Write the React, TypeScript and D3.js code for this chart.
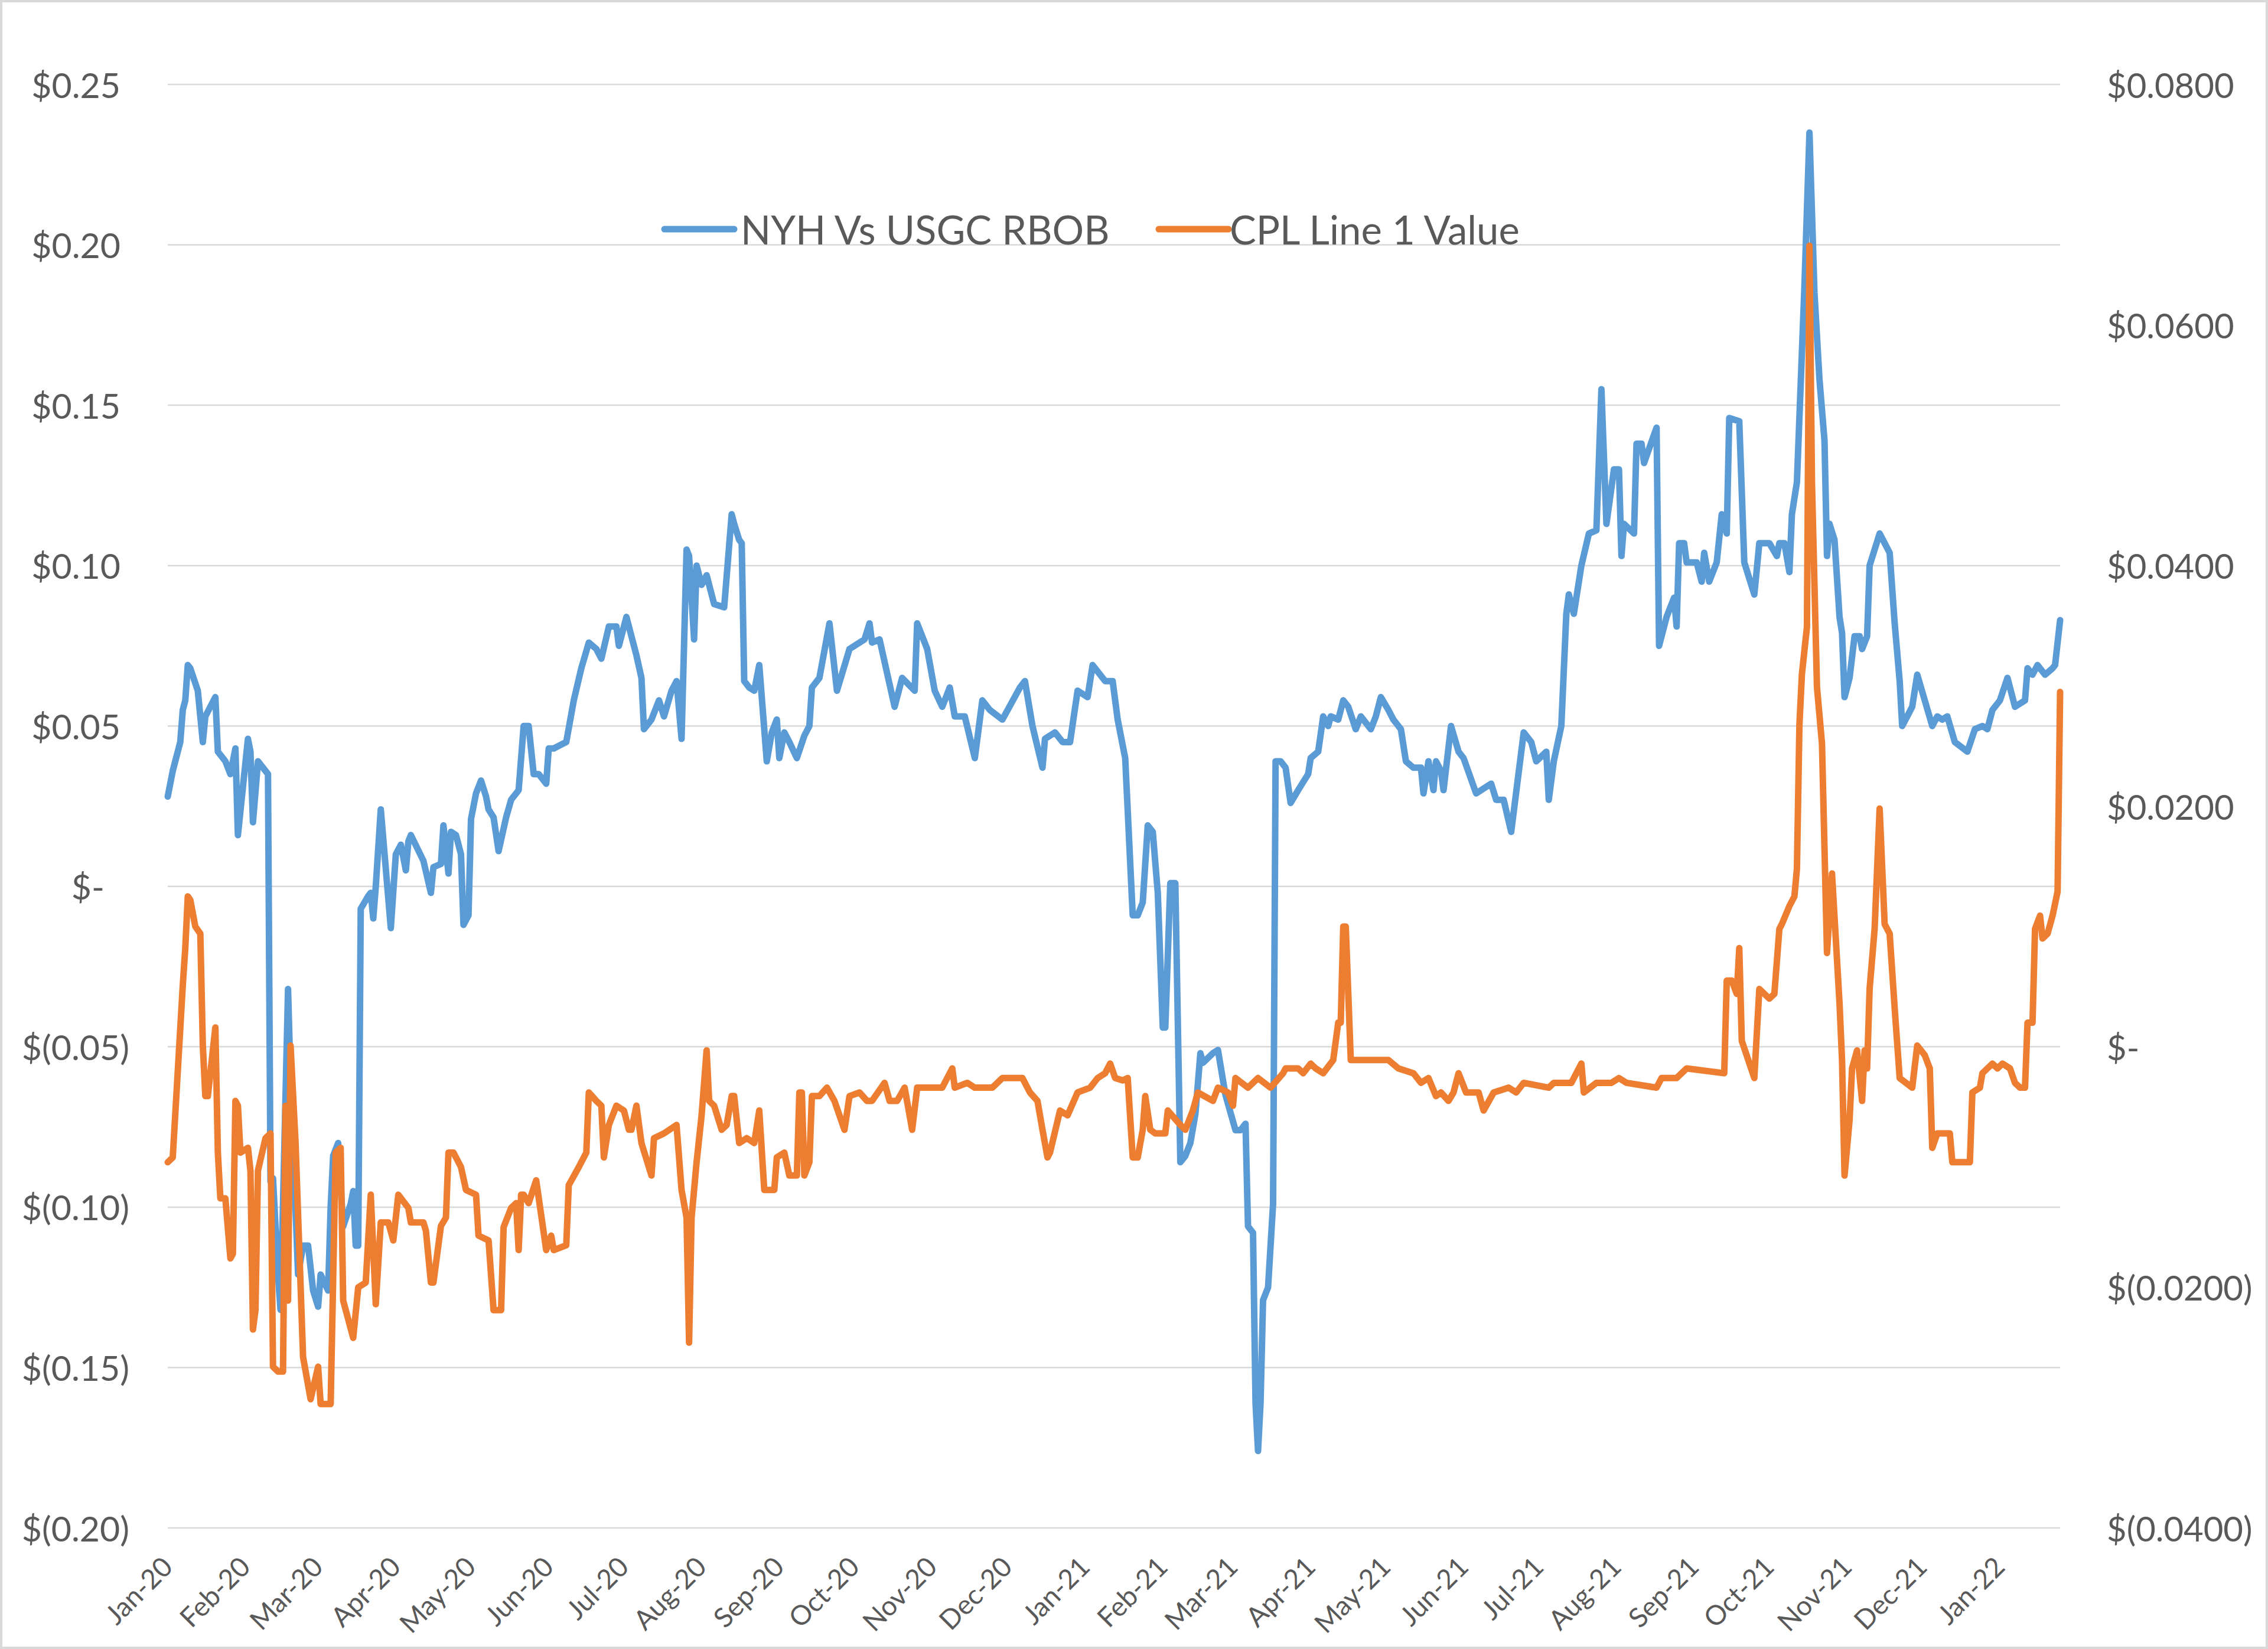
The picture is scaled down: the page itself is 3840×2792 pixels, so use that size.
import React from 'react';
import * as d3 from 'd3';

const nyhSeries: [string, number][] = [
  ['2020-01-02', 0.028], ['2020-01-04', 0.036], ['2020-01-07', 0.045], ['2020-01-08', 0.055], ['2020-01-09', 0.058],
  ['2020-01-10', 0.069], ['2020-01-11', 0.068], ['2020-01-14', 0.061], ['2020-01-16', 0.045], ['2020-01-17', 0.053],
  ['2020-01-21', 0.059], ['2020-01-22', 0.042], ['2020-01-25', 0.039], ['2020-01-27', 0.035], ['2020-01-29', 0.043],
  ['2020-01-30', 0.016], ['2020-02-03', 0.046], ['2020-02-04', 0.042], ['2020-02-05', 0.020], ['2020-02-07', 0.039],
  ['2020-02-10', 0.036], ['2020-02-11', 0.035], ['2020-02-12', -0.092], ['2020-02-13', -0.091], ['2020-02-15', -0.121],
  ['2020-02-16', -0.132], ['2020-02-19', -0.032], ['2020-02-20', -0.060], ['2020-02-23', -0.121], ['2020-02-25', -0.112],
  ['2020-02-27', -0.112], ['2020-02-29', -0.126], ['2020-03-02', -0.131], ['2020-03-03', -0.121], ['2020-03-06', -0.126],
  ['2020-03-07', -0.100], ['2020-03-08', -0.084], ['2020-03-10', -0.080], ['2020-03-12', -0.106], ['2020-03-15', -0.099],
  ['2020-03-16', -0.095], ['2020-03-17', -0.112], ['2020-03-18', -0.112], ['2020-03-19', -0.007], ['2020-03-22', -0.003],
  ['2020-03-23', -0.002], ['2020-03-24', -0.010], ['2020-03-25', 0.000], ['2020-03-27', 0.024], ['2020-03-31', -0.013],
  ['2020-04-02', 0.010], ['2020-04-04', 0.013], ['2020-04-06', 0.005], ['2020-04-07', 0.014], ['2020-04-08', 0.016],
  ['2020-04-13', 0.008], ['2020-04-16', -0.002], ['2020-04-17', 0.006], ['2020-04-20', 0.007], ['2020-04-21', 0.019],
  ['2020-04-23', 0.004], ['2020-04-24', 0.017], ['2020-04-26', 0.016], ['2020-04-28', 0.010], ['2020-04-29', -0.012],
  ['2020-05-01', -0.009], ['2020-05-02', 0.021], ['2020-05-04', 0.029], ['2020-05-06', 0.033], ['2020-05-08', 0.028],
  ['2020-05-09', 0.024], ['2020-05-11', 0.0215], ['2020-05-13', 0.011], ['2020-05-16', 0.0215], ['2020-05-18', 0.027],
  ['2020-05-21', 0.030], ['2020-05-23', 0.050], ['2020-05-25', 0.050], ['2020-05-27', 0.035], ['2020-05-29', 0.035],
  ['2020-06-01', 0.032], ['2020-06-02', 0.043], ['2020-06-04', 0.043], ['2020-06-09', 0.045], ['2020-06-12', 0.058],
  ['2020-06-15', 0.068], ['2020-06-18', 0.076], ['2020-06-21', 0.074], ['2020-06-23', 0.071], ['2020-06-26', 0.081],
  ['2020-06-29', 0.081], ['2020-06-30', 0.075], ['2020-07-03', 0.084], ['2020-07-05', 0.078], ['2020-07-07', 0.072],
  ['2020-07-09', 0.065], ['2020-07-10', 0.049], ['2020-07-13', 0.052], ['2020-07-16', 0.058], ['2020-07-18', 0.053],
  ['2020-07-21', 0.061], ['2020-07-23', 0.064], ['2020-07-25', 0.046], ['2020-07-27', 0.105], ['2020-07-28', 0.103],
  ['2020-07-30', 0.077], ['2020-07-31', 0.100], ['2020-08-02', 0.094], ['2020-08-04', 0.097], ['2020-08-07', 0.088],
  ['2020-08-11', 0.087], ['2020-08-14', 0.116], ['2020-08-15', 0.113], ['2020-08-17', 0.108], ['2020-08-18', 0.107],
  ['2020-08-19', 0.064], ['2020-08-21', 0.062], ['2020-08-23', 0.061], ['2020-08-25', 0.069], ['2020-08-28', 0.039],
  ['2020-08-30', 0.048], ['2020-09-01', 0.052], ['2020-09-02', 0.040], ['2020-09-04', 0.048], ['2020-09-06', 0.045],
  ['2020-09-09', 0.040], ['2020-09-12', 0.047], ['2020-09-14', 0.050], ['2020-09-15', 0.062], ['2020-09-18', 0.065],
  ['2020-09-22', 0.082], ['2020-09-25', 0.061], ['2020-09-30', 0.074], ['2020-10-06', 0.077], ['2020-10-08', 0.082],
  ['2020-10-09', 0.076], ['2020-10-12', 0.077], ['2020-10-18', 0.056], ['2020-10-21', 0.065], ['2020-10-26', 0.061],
  ['2020-10-27', 0.082], ['2020-10-31', 0.074], ['2020-11-03', 0.061], ['2020-11-06', 0.056], ['2020-11-09', 0.062],
  ['2020-11-11', 0.053], ['2020-11-15', 0.053], ['2020-11-19', 0.040], ['2020-11-22', 0.058], ['2020-11-25', 0.055],
  ['2020-11-30', 0.052], ['2020-12-07', 0.062], ['2020-12-09', 0.064], ['2020-12-12', 0.050], ['2020-12-16', 0.037],
  ['2020-12-17', 0.046], ['2020-12-21', 0.048], ['2020-12-24', 0.045], ['2020-12-27', 0.045], ['2020-12-30', 0.061],
  ['2021-01-03', 0.059], ['2021-01-05', 0.069], ['2021-01-10', 0.064], ['2021-01-13', 0.064], ['2021-01-15', 0.052],
  ['2021-01-18', 0.040], ['2021-01-21', -0.009], ['2021-01-23', -0.009], ['2021-01-25', -0.005], ['2021-01-27', 0.019],
  ['2021-01-29', 0.017], ['2021-01-31', -0.002], ['2021-02-02', -0.044], ['2021-02-03', -0.044], ['2021-02-05', 0.001],
  ['2021-02-07', 0.001], ['2021-02-09', -0.086], ['2021-02-11', -0.084], ['2021-02-13', -0.080], ['2021-02-15', -0.071],
  ['2021-02-17', -0.052], ['2021-02-18', -0.055], ['2021-02-22', -0.052], ['2021-02-24', -0.051], ['2021-02-27', -0.065],
  ['2021-03-03', -0.076], ['2021-03-05', -0.076], ['2021-03-07', -0.074], ['2021-03-08', -0.106], ['2021-03-10', -0.108],
  ['2021-03-11', -0.161], ['2021-03-12', -0.176], ['2021-03-13', -0.161], ['2021-03-14', -0.129], ['2021-03-16', -0.125],
  ['2021-03-18', -0.099], ['2021-03-19', 0.039], ['2021-03-21', 0.039], ['2021-03-23', 0.037], ['2021-03-25', 0.026],
  ['2021-03-28', 0.030], ['2021-04-01', 0.035], ['2021-04-02', 0.040], ['2021-04-05', 0.042], ['2021-04-07', 0.053],
  ['2021-04-09', 0.050], ['2021-04-10', 0.053], ['2021-04-13', 0.052], ['2021-04-15', 0.058], ['2021-04-17', 0.056],
  ['2021-04-20', 0.049], ['2021-04-22', 0.053], ['2021-04-26', 0.049], ['2021-04-28', 0.053], ['2021-04-30', 0.059],
  ['2021-05-03', 0.055], ['2021-05-05', 0.052], ['2021-05-08', 0.049], ['2021-05-10', 0.039], ['2021-05-13', 0.037],
  ['2021-05-16', 0.037], ['2021-05-17', 0.029], ['2021-05-19', 0.039], ['2021-05-21', 0.030], ['2021-05-22', 0.039],
  ['2021-05-24', 0.036], ['2021-05-25', 0.030], ['2021-05-28', 0.050], ['2021-05-31', 0.042], ['2021-06-02', 0.040],
  ['2021-06-07', 0.029], ['2021-06-09', 0.030], ['2021-06-13', 0.032], ['2021-06-15', 0.027], ['2021-06-18', 0.027],
  ['2021-06-21', 0.017], ['2021-06-26', 0.048], ['2021-06-29', 0.045], ['2021-07-01', 0.039], ['2021-07-05', 0.042],
  ['2021-07-06', 0.027], ['2021-07-08', 0.039], ['2021-07-11', 0.050], ['2021-07-13', 0.085], ['2021-07-14', 0.091],
  ['2021-07-16', 0.085], ['2021-07-19', 0.100], ['2021-07-22', 0.110], ['2021-07-25', 0.111], ['2021-07-27', 0.155],
  ['2021-07-29', 0.113], ['2021-08-01', 0.130], ['2021-08-03', 0.130], ['2021-08-04', 0.103], ['2021-08-05', 0.113],
  ['2021-08-09', 0.110], ['2021-08-10', 0.138], ['2021-08-12', 0.138], ['2021-08-13', 0.132], ['2021-08-18', 0.143],
  ['2021-08-19', 0.075], ['2021-08-22', 0.084], ['2021-08-25', 0.090], ['2021-08-26', 0.081], ['2021-08-27', 0.107],
  ['2021-08-29', 0.107], ['2021-08-30', 0.101], ['2021-09-03', 0.101], ['2021-09-05', 0.095], ['2021-09-06', 0.104],
  ['2021-09-08', 0.095], ['2021-09-11', 0.101], ['2021-09-13', 0.116], ['2021-09-15', 0.110], ['2021-09-16', 0.146],
  ['2021-09-20', 0.145], ['2021-09-22', 0.101], ['2021-09-26', 0.091], ['2021-09-28', 0.107], ['2021-09-30', 0.107],
  ['2021-10-02', 0.107], ['2021-10-05', 0.103], ['2021-10-06', 0.107], ['2021-10-08', 0.107], ['2021-10-10', 0.098],
  ['2021-10-11', 0.116], ['2021-10-13', 0.126], ['2021-10-16', 0.187], ['2021-10-18', 0.235], ['2021-10-20', 0.185],
  ['2021-10-22', 0.158], ['2021-10-24', 0.139], ['2021-10-25', 0.103], ['2021-10-26', 0.113], ['2021-10-28', 0.108],
  ['2021-10-30', 0.084], ['2021-10-31', 0.079], ['2021-11-01', 0.059], ['2021-11-03', 0.065], ['2021-11-05', 0.078],
  ['2021-11-07', 0.078], ['2021-11-08', 0.074], ['2021-11-10', 0.078], ['2021-11-11', 0.100], ['2021-11-15', 0.110],
  ['2021-11-17', 0.107], ['2021-11-19', 0.104], ['2021-11-21', 0.082], ['2021-11-23', 0.064], ['2021-11-24', 0.050],
  ['2021-11-28', 0.056], ['2021-11-30', 0.066], ['2021-12-03', 0.058], ['2021-12-06', 0.050], ['2021-12-08', 0.053],
  ['2021-12-10', 0.052], ['2021-12-12', 0.053], ['2021-12-15', 0.045], ['2021-12-20', 0.042], ['2021-12-23', 0.049],
  ['2021-12-26', 0.050], ['2021-12-28', 0.049], ['2021-12-30', 0.055], ['2022-01-02', 0.058], ['2022-01-05', 0.065],
  ['2022-01-06', 0.062], ['2022-01-08', 0.056], ['2022-01-12', 0.058], ['2022-01-13', 0.068], ['2022-01-15', 0.066],
  ['2022-01-17', 0.069], ['2022-01-20', 0.066], ['2022-01-23', 0.068], ['2022-01-24', 0.069], ['2022-01-26', 0.083],
];

const cplSeries: [string, number][] = [
  ['2020-01-02', -0.0096], ['2020-01-04', -0.0092], ['2020-01-08', 0.0051], ['2020-01-09', 0.0082], ['2020-01-10', 0.0125],
  ['2020-01-11', 0.0122], ['2020-01-13', 0.0100], ['2020-01-15', 0.0094], ['2020-01-16', 0.0001], ['2020-01-17', -0.0041],
  ['2020-01-18', -0.0041], ['2020-01-21', 0.0016], ['2020-01-22', -0.0088], ['2020-01-23', -0.0126], ['2020-01-25', -0.0126],
  ['2020-01-27', -0.0176], ['2020-01-28', -0.0172], ['2020-01-29', -0.0045], ['2020-01-30', -0.0049], ['2020-01-31', -0.0088],
  ['2020-02-03', -0.0084], ['2020-02-04', -0.0103], ['2020-02-05', -0.0235], ['2020-02-06', -0.0219], ['2020-02-07', -0.0103],
  ['2020-02-10', -0.0076], ['2020-02-12', -0.0072], ['2020-02-13', -0.0266], ['2020-02-15', -0.0270], ['2020-02-17', -0.0270],
  ['2020-02-18', -0.0049], ['2020-02-19', -0.0211], ['2020-02-20', 0.0001], ['2020-02-22', -0.0080], ['2020-02-25', -0.0258],
  ['2020-02-28', -0.0293], ['2020-03-02', -0.0266], ['2020-03-03', -0.0297], ['2020-03-07', -0.0297], ['2020-03-09', -0.0088],
  ['2020-03-11', -0.0084], ['2020-03-12', -0.0211], ['2020-03-16', -0.0242], ['2020-03-18', -0.0200], ['2020-03-21', -0.0196],
  ['2020-03-23', -0.0123], ['2020-03-25', -0.0214], ['2020-03-27', -0.0146], ['2020-03-30', -0.0146], ['2020-04-01', -0.0161],
  ['2020-04-03', -0.0123], ['2020-04-07', -0.0134], ['2020-04-08', -0.0146], ['2020-04-13', -0.0146], ['2020-04-14', -0.0153],
  ['2020-04-16', -0.0196], ['2020-04-17', -0.0196], ['2020-04-20', -0.0149], ['2020-04-22', -0.0142], ['2020-04-23', -0.0088],
  ['2020-04-25', -0.0088], ['2020-04-28', -0.0100], ['2020-04-30', -0.0119], ['2020-05-04', -0.0123], ['2020-05-05', -0.0157],
  ['2020-05-09', -0.0161], ['2020-05-11', -0.0219], ['2020-05-14', -0.0219], ['2020-05-15', -0.0150], ['2020-05-18', -0.0134],
  ['2020-05-20', -0.0130], ['2020-05-21', -0.0169], ['2020-05-22', -0.0123], ['2020-05-23', -0.0123], ['2020-05-25', -0.0130],
  ['2020-05-28', -0.0111], ['2020-06-01', -0.0169], ['2020-06-03', -0.0157], ['2020-06-04', -0.0169], ['2020-06-09', -0.0165],
  ['2020-06-10', -0.0115], ['2020-06-14', -0.0100], ['2020-06-17', -0.0088], ['2020-06-18', -0.0038], ['2020-06-21', -0.0045],
  ['2020-06-23', -0.0049], ['2020-06-24', -0.0092], ['2020-06-26', -0.0065], ['2020-06-29', -0.0049], ['2020-07-02', -0.0053],
  ['2020-07-04', -0.0069], ['2020-07-05', -0.0069], ['2020-07-07', -0.0049], ['2020-07-09', -0.0080], ['2020-07-13', -0.0107],
  ['2020-07-14', -0.0076], ['2020-07-18', -0.0072], ['2020-07-23', -0.0065], ['2020-07-25', -0.0119], ['2020-07-27', -0.0142],
  ['2020-07-28', -0.0246], ['2020-07-29', -0.0142], ['2020-07-31', -0.0096], ['2020-08-02', -0.0057], ['2020-08-04', -0.0003],
  ['2020-08-05', -0.0045], ['2020-08-07', -0.0049], ['2020-08-10', -0.0069], ['2020-08-12', -0.0065], ['2020-08-14', -0.0041],
  ['2020-08-15', -0.0041], ['2020-08-17', -0.0080], ['2020-08-20', -0.0076], ['2020-08-23', -0.0080], ['2020-08-25', -0.0053],
  ['2020-08-27', -0.0119], ['2020-08-31', -0.0119], ['2020-09-01', -0.0092], ['2020-09-04', -0.0088], ['2020-09-06', -0.0107],
  ['2020-09-09', -0.0107], ['2020-09-10', -0.0038], ['2020-09-11', -0.0038], ['2020-09-12', -0.0107], ['2020-09-14', -0.0096],
  ['2020-09-15', -0.0041], ['2020-09-18', -0.0041], ['2020-09-21', -0.0034], ['2020-09-24', -0.0045], ['2020-09-28', -0.0069],
  ['2020-09-30', -0.0041], ['2020-10-04', -0.0038], ['2020-10-07', -0.0045], ['2020-10-09', -0.0045], ['2020-10-14', -0.0030],
  ['2020-10-16', -0.0045], ['2020-10-19', -0.0045], ['2020-10-22', -0.0034], ['2020-10-25', -0.0069], ['2020-10-27', -0.0034],
  ['2020-11-06', -0.0034], ['2020-11-10', -0.0018], ['2020-11-11', -0.0034], ['2020-11-16', -0.0030], ['2020-11-19', -0.0034],
  ['2020-11-26', -0.0034], ['2020-11-30', -0.0026], ['2020-12-08', -0.0026], ['2020-12-11', -0.0038], ['2020-12-14', -0.0045],
  ['2020-12-16', -0.0069], ['2020-12-18', -0.0092], ['2020-12-19', -0.0088], ['2020-12-23', -0.0053], ['2020-12-26', -0.0057],
  ['2020-12-30', -0.0038], ['2021-01-04', -0.0034], ['2021-01-07', -0.0026], ['2021-01-10', -0.0022], ['2021-01-12', -0.0014],
  ['2021-01-14', -0.0026], ['2021-01-17', -0.0028], ['2021-01-19', -0.0026], ['2021-01-21', -0.0092], ['2021-01-23', -0.0092],
  ['2021-01-25', -0.0069], ['2021-01-26', -0.0041], ['2021-01-28', -0.0069], ['2021-01-30', -0.0072], ['2021-02-03', -0.0072],
  ['2021-02-04', -0.0053], ['2021-02-09', -0.0065], ['2021-02-11', -0.0069], ['2021-02-14', -0.0053], ['2021-02-16', -0.0038],
  ['2021-02-22', -0.0045], ['2021-02-24', -0.0034], ['2021-02-28', -0.0038], ['2021-03-02', -0.0049], ['2021-03-03', -0.0026],
  ['2021-03-08', -0.0034], ['2021-03-12', -0.0026], ['2021-03-17', -0.0034], ['2021-03-22', -0.0022], ['2021-03-23', -0.0018],
  ['2021-03-28', -0.0018], ['2021-03-30', -0.0022], ['2021-04-02', -0.0014], ['2021-04-04', -0.0018], ['2021-04-07', -0.0022],
  ['2021-04-11', -0.0011], ['2021-04-13', 0.0020], ['2021-04-14', 0.0020], ['2021-04-15', 0.0100], ['2021-04-16', 0.0100],
  ['2021-04-18', -0.0011], ['2021-04-23', -0.0011], ['2021-05-03', -0.0011], ['2021-05-07', -0.0018], ['2021-05-13', -0.0022],
  ['2021-05-16', -0.0030], ['2021-05-19', -0.0026], ['2021-05-22', -0.0041], ['2021-05-24', -0.0038], ['2021-05-27', -0.0045],
  ['2021-05-29', -0.0038], ['2021-05-31', -0.0022], ['2021-06-03', -0.0038], ['2021-06-08', -0.0038], ['2021-06-10', -0.0053],
  ['2021-06-14', -0.0038], ['2021-06-20', -0.0034], ['2021-06-23', -0.0038], ['2021-06-26', -0.0030], ['2021-07-06', -0.0034],
  ['2021-07-08', -0.0030], ['2021-07-15', -0.0030], ['2021-07-19', -0.0014], ['2021-07-20', -0.0038], ['2021-07-25', -0.0030],
  ['2021-07-31', -0.0030], ['2021-08-03', -0.0026], ['2021-08-06', -0.0030], ['2021-08-18', -0.0034], ['2021-08-20', -0.0026],
  ['2021-08-26', -0.0026], ['2021-08-30', -0.0018], ['2021-09-14', -0.0022], ['2021-09-15', 0.0055], ['2021-09-17', 0.0055],
  ['2021-09-19', 0.0044], ['2021-09-20', 0.0082], ['2021-09-21', 0.0005], ['2021-09-26', -0.0026], ['2021-09-28', 0.0048],
  ['2021-10-02', 0.0040], ['2021-10-04', 0.0044], ['2021-10-06', 0.0098], ['2021-10-07', 0.0102], ['2021-10-10', 0.0117],
  ['2021-10-12', 0.0125], ['2021-10-13', 0.0148], ['2021-10-14', 0.0268], ['2021-10-15', 0.0310], ['2021-10-17', 0.0349],
  ['2021-10-18', 0.0666], ['2021-10-19', 0.0469], ['2021-10-21', 0.0299], ['2021-10-23', 0.0252], ['2021-10-25', 0.0078],
  ['2021-10-27', 0.0144], ['2021-10-30', 0.0036], ['2021-10-31', -0.0011], ['2021-11-01', -0.0107], ['2021-11-03', -0.0061],
  ['2021-11-04', -0.0018], ['2021-11-06', -0.0003], ['2021-11-08', -0.0045], ['2021-11-09', -0.0003], ['2021-11-10', -0.0018],
  ['2021-11-11', 0.0048], ['2021-11-13', 0.0098], ['2021-11-15', 0.0198], ['2021-11-17', 0.0102], ['2021-11-19', 0.0094],
  ['2021-11-21', 0.0032], ['2021-11-23', -0.0026], ['2021-11-28', -0.0034], ['2021-11-30', 0.0001], ['2021-12-03', -0.0007],
  ['2021-12-05', -0.0018], ['2021-12-06', -0.0084], ['2021-12-08', -0.0072], ['2021-12-13', -0.0072], ['2021-12-14', -0.0096],
  ['2021-12-21', -0.0096], ['2021-12-22', -0.0038], ['2021-12-25', -0.0034], ['2021-12-26', -0.0022], ['2021-12-30', -0.0014],
  ['2022-01-01', -0.0018], ['2022-01-03', -0.0014], ['2022-01-06', -0.0018], ['2022-01-08', -0.0030], ['2022-01-10', -0.0034],
  ['2022-01-12', -0.0034], ['2022-01-13', 0.0020], ['2022-01-15', 0.0020], ['2022-01-16', 0.0098], ['2022-01-18', 0.0109],
  ['2022-01-19', 0.0090], ['2022-01-21', 0.0094], ['2022-01-23', 0.0109], ['2022-01-25', 0.0129], ['2022-01-26', 0.0295],
];

const seriesNames = ['NYH Vs USGC RBOB', 'CPL Line 1 Value'];
const seriesColors = ['#5B9BD5', '#ED7D31'];
const leftTicks = [0.25, 0.2, 0.15, 0.1, 0.05, 0, -0.05, -0.1, -0.15, -0.2];
const rightTicks = [0.08, 0.06, 0.04, 0.02, 0, -0.02, -0.04];
const monthLabels = [
  'Jan-20', 'Feb-20', 'Mar-20', 'Apr-20', 'May-20', 'Jun-20', 'Jul-20', 'Aug-20', 'Sep-20', 'Oct-20', 'Nov-20', 'Dec-20',
  'Jan-21', 'Feb-21', 'Mar-21', 'Apr-21', 'May-21', 'Jun-21', 'Jul-21', 'Aug-21', 'Sep-21', 'Oct-21', 'Nov-21', 'Dec-21',
  'Jan-22',
];
const axisStart = '2020-01-02';
const axisEnd = '2022-01-26';

const W = 3840;
const H = 2792;
const PLOT = { left: 284, right: 3488, top: 143, bottom: 2587 };
const FONT = "Lato, 'Open Sans', 'Liberation Sans', sans-serif";
const TEXT = '#595959';

function leftLabel(v: number): { text: string; end: number } {
  if (Math.abs(v) < 1e-9) return { text: '$-', end: 177 };
  if (v > 0) return { text: `$${v.toFixed(2)}`, end: 204 };
  return { text: `$(${(-v).toFixed(2)})`, end: 219 };
}

function rightLabel(v: number): string {
  if (Math.abs(v) < 1e-9) return '$-';
  if (v > 0) return `$${v.toFixed(4)}`;
  return `$(${(-v).toFixed(4)})`;
}

export default function App() {
  const parse = d3.timeParse('%Y-%m-%d');
  const start = parse(axisStart)!;
  const end = parse(axisEnd)!;
  const x = d3.scaleTime().domain([start, end]).range([PLOT.left, PLOT.right]);
  const yL = d3.scaleLinear().domain([-0.2, 0.25]).range([PLOT.bottom, PLOT.top]);
  const yR = d3.scaleLinear().domain([-0.04, 0.08]).range([PLOT.bottom, PLOT.top]);

  const lineL = d3
    .line<[string, number]>()
    .x((d) => x(parse(d[0])!))
    .y((d) => yL(d[1]));
  const lineR = d3
    .line<[string, number]>()
    .x((d) => x(parse(d[0])!))
    .y((d) => yR(d[1]));

  const monthTicks = monthLabels.map((lab, i) => ({ lab, date: d3.timeMonth.offset(start, i) }));

  const legend = [
    { name: seriesNames[0], color: seriesColors[0], x1: 1125, x2: 1243, tx: 1254 },
    { name: seriesNames[1], color: seriesColors[1], x1: 1962, x2: 2080, tx: 2082 },
  ];
  const legendY = 388;

  return (
    <svg
      width={W}
      height={H}
      viewBox={`0 0 ${W} ${H}`}
      style={{ position: 'absolute', left: 0, top: 0, display: 'block' }}
      fontFamily={FONT}
    >
      <rect x={2} y={2} width={W - 4} height={H - 4} fill="#ffffff" stroke="#d9d9d9" strokeWidth={4} />

      <g>
        {leftTicks.map((t) => (
          <line
            key={`g${t}`}
            x1={PLOT.left}
            x2={PLOT.right}
            y1={yL(t)}
            y2={yL(t)}
            stroke="#d9d9d9"
            strokeWidth={2.5}
          />
        ))}
      </g>

      <g fill={TEXT} fontSize={59}>
        {leftTicks.map((t) => {
          const l = leftLabel(t);
          return (
            <text key={`l${t}`} x={l.end} y={yL(t)} textAnchor="end" dominantBaseline="central">
              {l.text}
            </text>
          );
        })}
      </g>

      <g fill={TEXT} fontSize={58}>
        {rightTicks.map((t) => (
          <text key={`r${t}`} x={3567} y={yR(t)} textAnchor="start" dominantBaseline="central">
            {rightLabel(t)}
          </text>
        ))}
      </g>

      <g fill={TEXT} fontSize={46}>
        {monthTicks.map((m) => (
          <text
            key={m.lab}
            textAnchor="end"
            transform={`translate(${x(m.date) + 11}, 2656) rotate(-45)`}
          >
            {m.lab}
          </text>
        ))}
      </g>

      <path
        d={lineL(nyhSeries) ?? ''}
        fill="none"
        stroke={seriesColors[0]}
        strokeWidth={11}
        strokeLinejoin="round"
        strokeLinecap="round"
      />
      <path
        d={lineR(cplSeries) ?? ''}
        fill="none"
        stroke={seriesColors[1]}
        strokeWidth={11}
        strokeLinejoin="round"
        strokeLinecap="round"
      />

      <g>
        {legend.map((it) => (
          <g key={it.name}>
            <line
              x1={it.x1}
              x2={it.x2}
              y1={legendY}
              y2={legendY}
              stroke={it.color}
              strokeWidth={11}
              strokeLinecap="round"
            />
            <text x={it.tx} y={legendY} fill={TEXT} fontSize={67} dominantBaseline="central">
              {it.name}
            </text>
          </g>
        ))}
      </g>
    </svg>
  );
}
